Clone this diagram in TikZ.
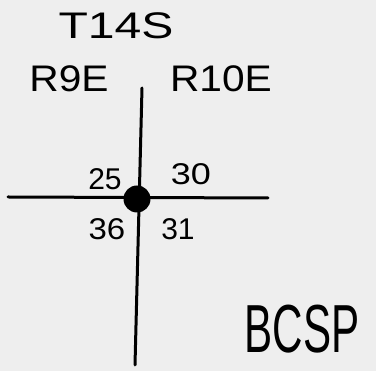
\documentclass[tikz,border=0pt]{standalone}
\usepackage{fontspec}
\setmainfont{Liberation Sans}
\definecolor{paper}{RGB}{238,238,238}
\begin{document}
\begin{tikzpicture}[x=1pt,y=-1pt,
  hand/.style={line width=3pt,line cap=round,black},
  lbl/.style={inner sep=0pt,anchor=center,font=\fontsize{37}{37}\selectfont},
  num/.style={inner sep=0pt,anchor=center,font=\fontsize{30}{30}\selectfont}]
\fill[paper] (0,0) rectangle (376,371);
\useasboundingbox (0,0) rectangle (376,371);
\coordinate (vtop) at (142,88);
\coordinate (vbot) at (135,365);
\coordinate (hleft) at (8,197);
\coordinate (hright) at (268,198);
\draw[hand] (vtop) -- (vbot);
\draw[hand] (hleft) -- (hright);
\node[circle,fill=black,minimum size=27pt,inner sep=0pt] (dot) at (137,199) {};
\node[lbl,xscale=1.3,transform shape] (t) at (116,26) {T14S};
\node[lbl,xscale=1.1,transform shape] (r9) at (69,79) {R9E};
\node[lbl,xscale=1.1,transform shape] (r10) at (221,79) {R10E};
\node[num] (n25) at (105,179) {25};
\node[num,xscale=1.2,transform shape] (n30) at (191,174) {30};
\node[num,xscale=1.1,transform shape] (n36) at (107,229) {36};
\node[num] (n31) at (178,229) {31};
\node[inner sep=0pt,font=\fontsize{68}{68}\selectfont,xscale=0.62,transform shape] (b) at (302,329) {BCSP};
\end{tikzpicture}
\end{document}
